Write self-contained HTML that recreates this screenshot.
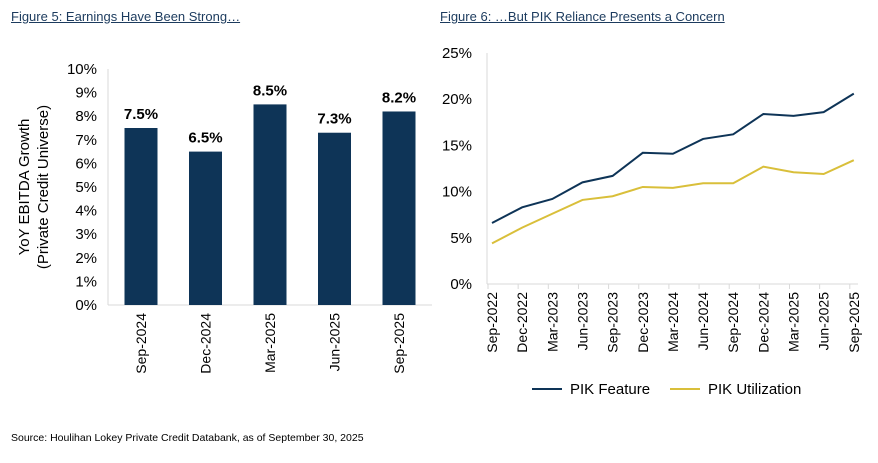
<!DOCTYPE html>
<html><head><meta charset="utf-8"><style>
body{margin:0;background:#fff;width:878px;height:463px;overflow:hidden;font-family:"Liberation Sans",sans-serif}
.t{position:absolute;font-size:13px;color:#1c3b5e;text-decoration:underline}
</style></head><body>
<div class="t" style="left:11px;top:9px">Figure 5: Earnings Have Been Strong…</div>
<div class="t" style="left:440px;top:9px">Figure 6: …But PIK Reliance Presents a Concern</div>
<div style="position:absolute;left:11px;top:432px;font-size:10.5px;color:#000">Source: Houlihan Lokey Private Credit Databank, as of September 30, 2025</div>
<svg id="s" width="878" height="463" style="position:absolute;left:0;top:0" font-family="Liberation Sans, sans-serif"></svg>
<script>
const barCats=["Sep-2024","Dec-2024","Mar-2025","Jun-2025","Sep-2025"];
const barVals=[7.5,6.5,8.5,7.3,8.2];
const barTicks=[0,1,2,3,4,5,6,7,8,9,10];
const lineCats=["Sep-2022","Dec-2022","Mar-2023","Jun-2023","Sep-2023","Dec-2023","Mar-2024","Jun-2024","Sep-2024","Dec-2024","Mar-2025","Jun-2025","Sep-2025"];
const pikFeature=[6.6,8.3,9.2,11.0,11.7,14.2,14.1,15.7,16.2,18.4,18.2,18.6,20.6];
const pikUtil=[4.4,6.1,7.6,9.1,9.5,10.5,10.4,10.9,10.9,12.7,12.1,11.9,13.4];
const lineTicks=[0,5,10,15,20,25];
const s=document.getElementById('s');const NS='http://www.w3.org/2000/svg';
function el(t,a,txt){const e=document.createElementNS(NS,t);for(const k in a)e.setAttribute(k,a[k]);if(txt!=null)e.textContent=txt;s.appendChild(e);return e;}
// bar chart
const by=v=>305-v*23.6, bx=i=>141+i*64.5;
let e=el('line',{x1:108,y1:305,x2:432,y2:305,stroke:'#d9d9d9'});

e=el('line',{x1:108,y1:69,x2:108,y2:305,stroke:'#d9d9d9'});

barTicks.forEach(v=>{const t=el('text',{x:97,y:by(v)+5,'text-anchor':'end','font-size':15,fill:'#000'},v+'%');
});
barCats.forEach((c,i)=>{const x=bx(i);
const r=el('rect',{x:x-16.5,y:by(barVals[i]),width:33,height:barVals[i]*23.6,fill:'#0e3457'});

const l=el('text',{x:x,y:by(barVals[i])-9,'text-anchor':'middle','font-size':15,'font-weight':'bold',fill:'#000'},barVals[i].toFixed(1)+'%');

const k=el('text',{x:0,y:0,'text-anchor':'end','font-size':14,fill:'#000',transform:`translate(${x+5},313) rotate(-90)`},c);
});
const yt=el('text',{x:0,y:0,'text-anchor':'middle','font-size':15,fill:'#000',transform:'translate(33,187) rotate(-90)'});

const t1=document.createElementNS(NS,'tspan');t1.setAttribute('x',0);t1.setAttribute('dy',-4);t1.textContent='YoY EBITDA Growth';yt.appendChild(t1);
const t2=document.createElementNS(NS,'tspan');t2.setAttribute('x',0);t2.setAttribute('dy',19);t2.textContent='(Private Credit Universe)';yt.appendChild(t2);
// line chart
const ly=v=>284-v*9.24, lx=i=>492+i*30.15;
e=el('line',{x1:487,y1:53,x2:487,y2:284,stroke:'#d9d9d9'});

e=el('line',{x1:487,y1:284,x2:858,y2:284,stroke:'#d9d9d9'});

lineTicks.forEach(v=>{const t=el('text',{x:472,y:ly(v)+5,'text-anchor':'end','font-size':15,fill:'#000'},v+'%');
});
lineCats.forEach((c,i)=>{const x=lx(i);
const tk=el('line',{x1:x-4,y1:284,x2:x-4,y2:289,stroke:'#d9d9d9'});

const k=el('text',{x:0,y:0,'text-anchor':'end','font-size':14,fill:'#000',transform:`translate(${x+5},292) rotate(-90)`},c);
});
const p1=el('polyline',{points:pikFeature.map((v,i)=>lx(i)+','+ly(v)).join(' '),fill:'none',stroke:'#0e3457','stroke-width':2});

const p2=el('polyline',{points:pikUtil.map((v,i)=>lx(i)+','+ly(v)).join(' '),fill:'none',stroke:'#d9bf3a','stroke-width':2});

e=el('line',{x1:532,y1:389,x2:562,y2:389,stroke:'#0e3457','stroke-width':2});

e=el('text',{x:570,y:394,'font-size':15,fill:'#000'},'PIK Feature');

e=el('line',{x1:670,y1:389,x2:700,y2:389,stroke:'#d9bf3a','stroke-width':2});

e=el('text',{x:708,y:394,'font-size':15,fill:'#000'},'PIK Utilization');

</script>
</body></html>
